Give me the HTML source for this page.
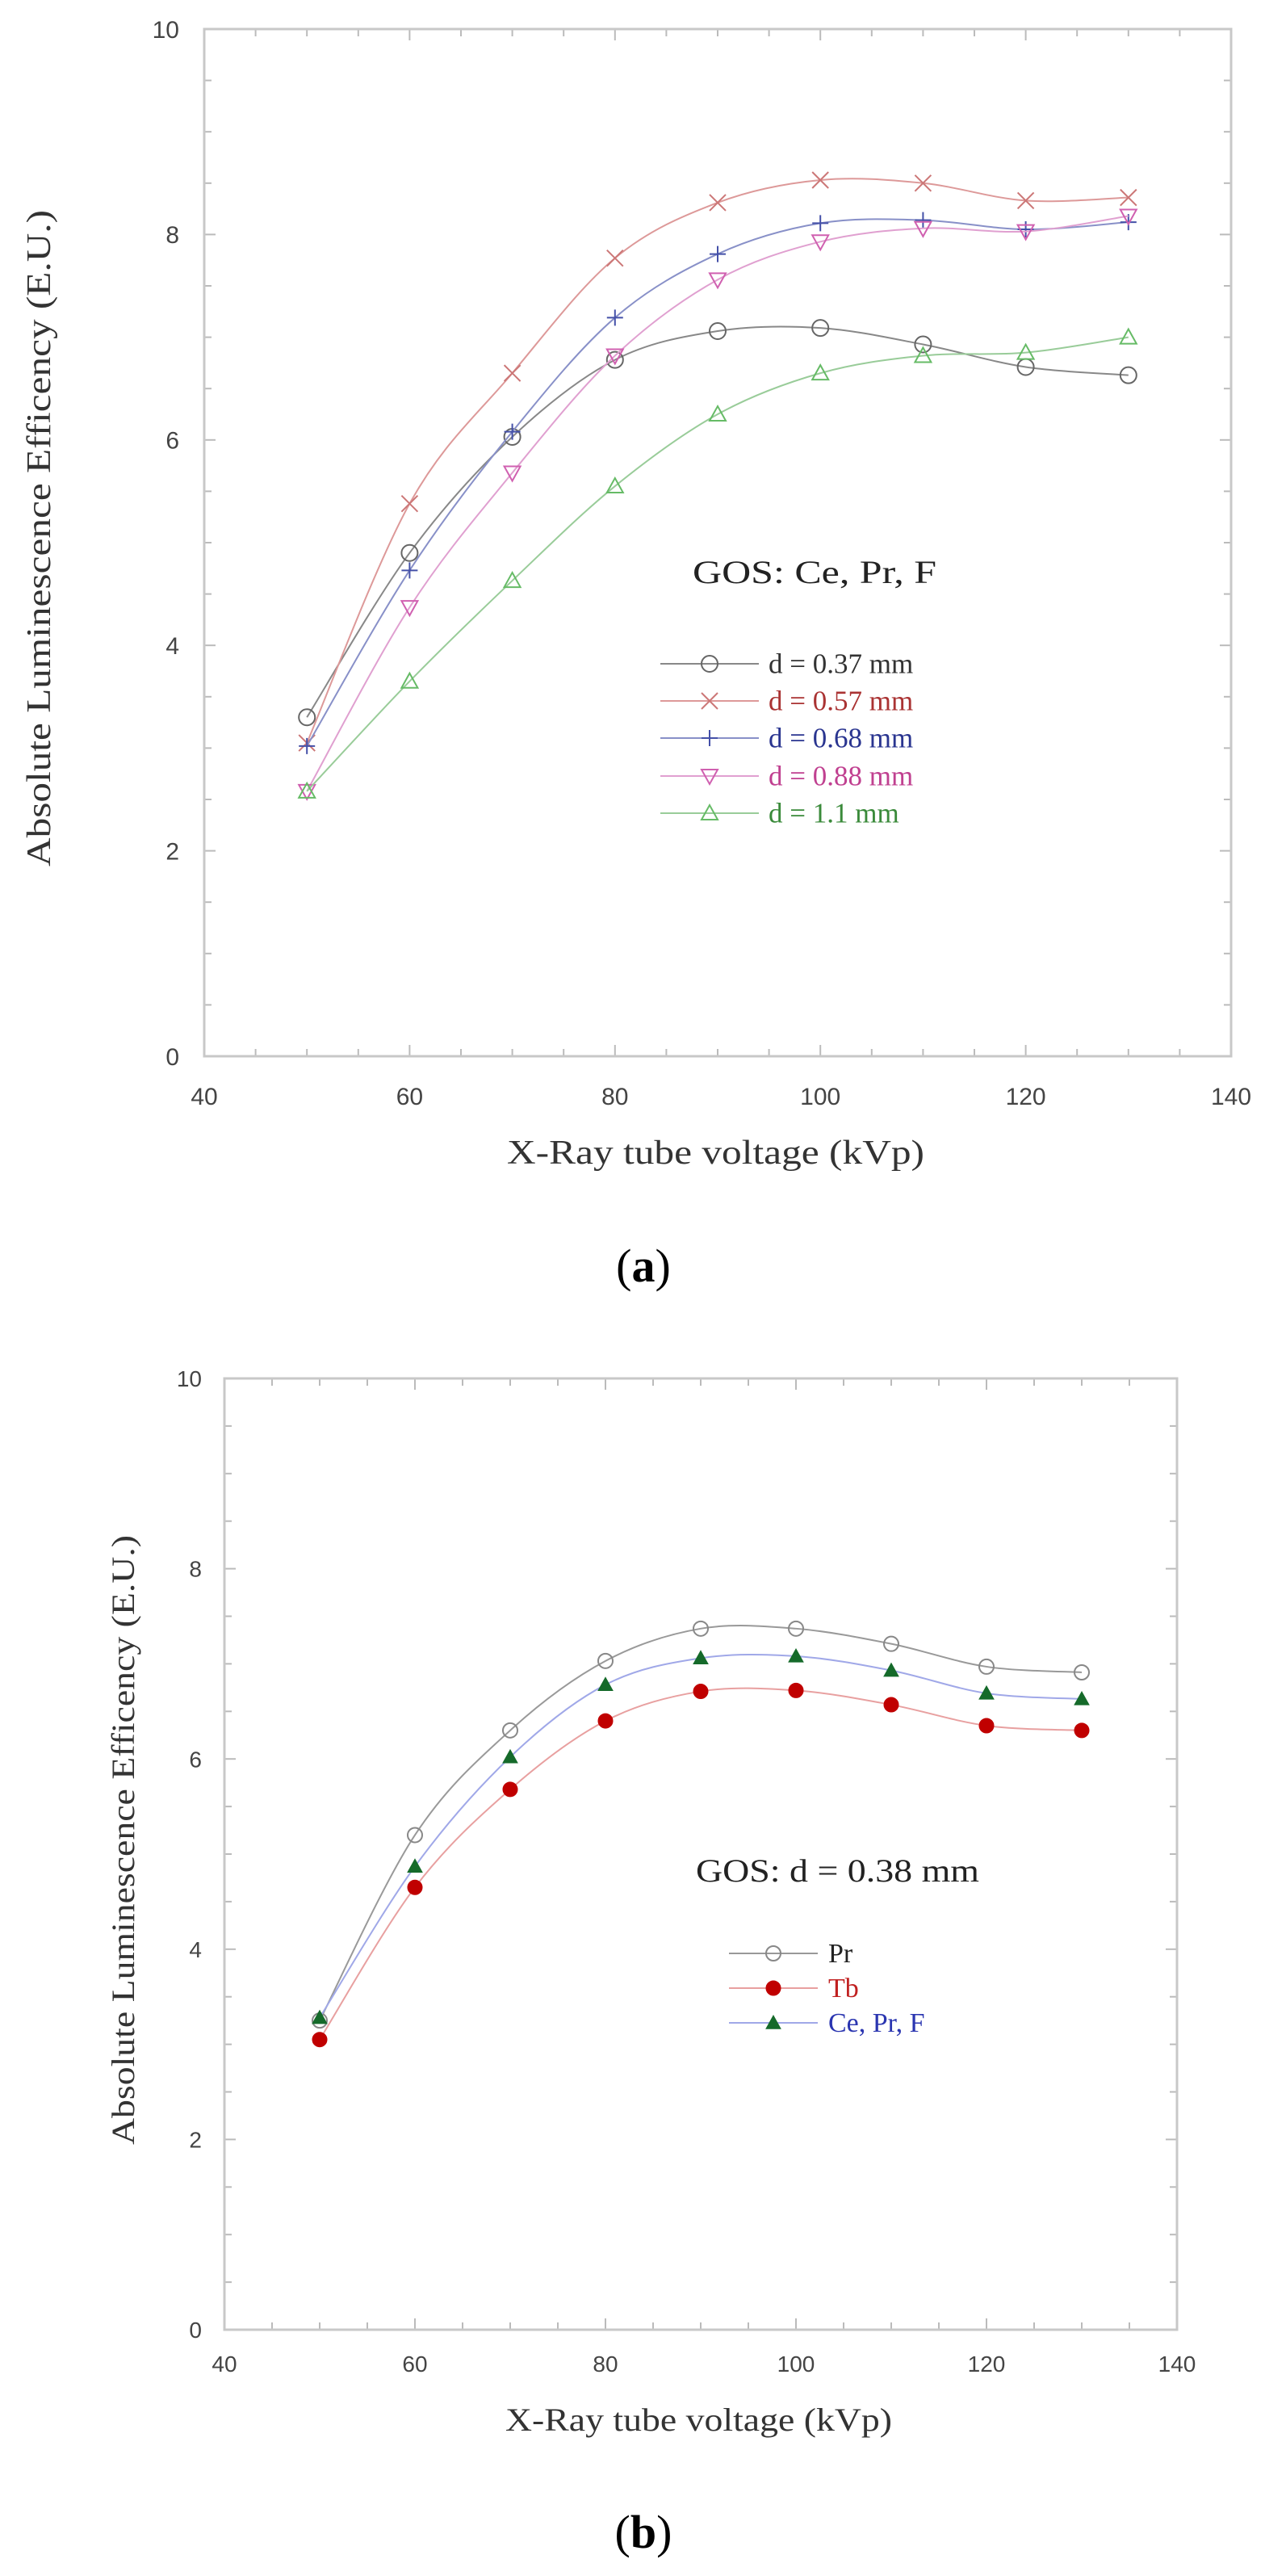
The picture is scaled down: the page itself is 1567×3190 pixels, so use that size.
<!DOCTYPE html>
<html><head><meta charset="utf-8"><style>
html,body{margin:0;padding:0;background:#fff;}
svg{display:block;}
</style></head><body>
<svg id="fig" width="1567" height="3190" viewBox="0 0 1567 3190" xmlns="http://www.w3.org/2000/svg">
<rect x="0" y="0" width="1567" height="3190" fill="#fff"/>
<g id="chartA"></g>
<g id="chartB"></g>
<text x="797" y="1587" text-anchor="middle" font-family="Liberation Serif, serif" font-size="58" fill="#000">(<tspan font-weight="bold">a</tspan>)</text>
<text x="797" y="3155" text-anchor="middle" font-family="Liberation Serif, serif" font-size="58" fill="#000">(<tspan font-weight="bold">b</tspan>)</text>
</svg>
<script>
const xCats = [50,60,70,80,90,100,110,120,130];
const xTicks = [40,60,80,100,120,140];
const yTicks = [0,2,4,6,8,10];
// Chart A series
const a037 = [3.3,4.9,6.03,6.78,7.06,7.09,6.93,6.71,6.63];
const a057 = [3.05,5.38,6.65,7.77,8.31,8.53,8.50,8.33,8.36];
const a068 = [3.02,4.73,6.08,7.19,7.81,8.11,8.14,8.05,8.12];
const a088 = [2.58,4.37,5.68,6.82,7.56,7.93,8.06,8.03,8.18];
const a110 = [2.58,3.65,4.63,5.55,6.25,6.65,6.82,6.85,7.0];
const aLabels = ["d = 0.37 mm","d = 0.57 mm","d = 0.68 mm","d = 0.88 mm","d = 1.1 mm"];
// Chart B series
const bPr = [3.25,5.2,6.3,7.03,7.37,7.37,7.21,6.97,6.91];
const bTb = [3.05,4.65,5.68,6.4,6.71,6.72,6.57,6.35,6.3];
const bCe = [3.28,4.87,6.02,6.78,7.06,7.08,6.93,6.69,6.63];
const bLabels = ["Pr","Tb","Ce, Pr, F"];

const NS="http://www.w3.org/2000/svg";
function mk(parent,tag,attrs){const e=document.createElementNS(NS,tag);for(const k in attrs)e.setAttribute(k,attrs[k]);parent.appendChild(e);return e;}

function smoothPath(pts){
  let d="M"+pts[0][0]+","+pts[0][1];
  for(let i=0;i<pts.length-1;i++){
    const p0=pts[Math.max(0,i-1)],p1=pts[i],p2=pts[i+1],p3=pts[Math.min(pts.length-1,i+2)];
    const c1=[p1[0]+(p2[0]-p0[0])/6,p1[1]+(p2[1]-p0[1])/6];
    const c2=[p2[0]-(p3[0]-p1[0])/6,p2[1]-(p3[1]-p1[1])/6];
    d+=" C"+c1[0]+","+c1[1]+" "+c2[0]+","+c2[1]+" "+p2[0]+","+p2[1];
  }
  return d;
}

function marker(g,type,x,y,color,r){
  let e;
  if(type==="circle"){e=mk(g,"circle",{cx:x,cy:y,r:r,fill:"#fff","fill-opacity":"0",stroke:color,"stroke-width":2});}
  else if(type==="fcircle"){e=mk(g,"circle",{cx:x,cy:y,r:r,fill:color,stroke:color,"stroke-width":1});}
  else if(type==="x"){e=mk(g,"path",{d:`M${x-r},${y-r}L${x+r},${y+r}M${x-r},${y+r}L${x+r},${y-r}`,stroke:color,"stroke-width":2,fill:"none"});}
  else if(type==="plus"){e=mk(g,"path",{d:`M${x-r},${y}L${x+r},${y}M${x},${y-r}L${x},${y+r}`,stroke:color,"stroke-width":2,fill:"none"});}
  else if(type==="tdown"){e=mk(g,"path",{d:`M${x-r},${y-r*0.8}L${x+r},${y-r*0.8}L${x},${y+r}Z`,stroke:color,"stroke-width":2,fill:"#fff","fill-opacity":"0"});}
  else if(type==="tup"){e=mk(g,"path",{d:`M${x-r},${y+r*0.8}L${x+r},${y+r*0.8}L${x},${y-r}Z`,stroke:color,"stroke-width":2,fill:"#fff","fill-opacity":"0"});}
  else if(type==="ftup"){e=mk(g,"path",{d:`M${x-r},${y+r*0.8}L${x+r},${y+r*0.8}L${x},${y-r}Z`,stroke:color,"stroke-width":1,fill:color});}
  return e;
}

function drawChart(g,cfg){
  const X=v=>cfg.x0+(v-40)/100*(cfg.x1-cfg.x0);
  const Y=v=>cfg.y1-(v/10)*(cfg.y1-cfg.y0);
  // ticks
  const tg=mk(g,"g",{});
  
  
  for(let v=45;v<140;v+=5){
    const L=(v%20===0)?14:9;
    mk(tg,"line",{x1:X(v),x2:X(v),y1:cfg.y1,y2:cfg.y1-L,stroke:"#bbb","stroke-width":2});
    mk(tg,"line",{x1:X(v),x2:X(v),y1:cfg.y0,y2:cfg.y0+L,stroke:"#bbb","stroke-width":2});
  }
  for(let v=0.5;v<10;v+=0.5){
    const L=(Math.abs(v%2)<1e-6)?14:9;
    mk(tg,"line",{x1:cfg.x0,x2:cfg.x0+L,y1:Y(v),y2:Y(v),stroke:"#bbb","stroke-width":2});
    mk(tg,"line",{x1:cfg.x1,x2:cfg.x1-L,y1:Y(v),y2:Y(v),stroke:"#bbb","stroke-width":2});
  }
  const fr=mk(g,"rect",{x:cfg.x0,y:cfg.y0,width:cfg.x1-cfg.x0,height:cfg.y1-cfg.y0,fill:"none",stroke:"#c8c8c8","stroke-width":3});
  
  
  xTicks.forEach(v=>{
    const t=mk(g,"text",{x:X(v),y:cfg.xlabY,"text-anchor":"middle","font-family":"Liberation Sans, sans-serif","font-size":cfg.tfs,fill:"#444"});
    t.textContent=v;
    
    
  });
  yTicks.forEach(v=>{
    const t=mk(g,"text",{x:cfg.ylabX,y:Y(v)+cfg.tfs*0.36,"text-anchor":"end","font-family":"Liberation Sans, sans-serif","font-size":cfg.tfs,fill:"#444"});
    t.textContent=v;
    
    
  });
  const xt=mk(g,"text",{x:cfg.xtX,y:cfg.xtY,"font-family":"Liberation Serif, serif","font-size":cfg.afs,fill:"#333",textLength:cfg.xtLen,lengthAdjust:"spacingAndGlyphs"});
  xt.textContent="X-Ray tube voltage (kVp)";
  
  
  const yt=mk(g,"text",{x:0,y:0,transform:`translate(${cfg.ytX},${cfg.ytY}) rotate(-90)`,"font-family":"Liberation Serif, serif","font-size":cfg.afs,fill:"#333",textLength:cfg.ytLen,lengthAdjust:"spacingAndGlyphs"});
  yt.textContent="Absolute Luminescence Efficency (E.U.)";
  
  
  const gt=mk(g,"text",{x:cfg.gtX,y:cfg.gtY,"font-family":"Liberation Serif, serif","font-size":cfg.gfs,fill:"#222",textLength:cfg.gtLen,lengthAdjust:"spacingAndGlyphs"});
  gt.textContent=cfg.gtText;
  
  
  cfg.series.forEach((s,si)=>{
    const sg=mk(g,"g",{});
    
    
    const pts=xCats.map((c,i)=>[X(c),Y(s.data[i])]);
    const p=mk(sg,"path",{d:smoothPath(pts),fill:"none",stroke:s.line,"stroke-width":2});
    
    
    pts.forEach(q=>{
      const m=marker(sg,s.m,q[0],q[1],s.mc,cfg.mr);
      
      
    });
    // legend
    const lg=mk(g,"g",{});
    
    
    const ly=cfg.legY[si];
    mk(lg,"line",{x1:cfg.legX0,x2:cfg.legX1,y1:ly,y2:ly,stroke:s.line,"stroke-width":2});
    marker(lg,s.m,(cfg.legX0+cfg.legX1)/2,ly,s.mc,cfg.mr);
    const lt=mk(lg,"text",{x:cfg.legTX,y:ly+cfg.lfs*0.33,"font-family":"Liberation Serif, serif","font-size":cfg.lfs,fill:s.tc});
    lt.textContent=s.label;
  });
}

drawChart(document.getElementById("chartA"),{
  x0:253,x1:1525,y0:36,y1:1308,xlabY:1368,ylabX:222,tfs:30,
  xtX:628,xtY:1441,xtLen:517,afs:42,ytX:62,ytY:1073,ytLen:813,
  gtX:858,gtY:722,gtLen:302,gfs:40,gtText:"GOS: Ce, Pr, F",
  mr:10,legX0:818,legX1:940,legTX:952,lfs:35,legY:[822,868,914,961,1007],
  series:[
    {key:"d037",data:a037,m:"circle",line:"#888",mc:"#666",tc:"#333",label:aLabels[0]},
    {key:"d057",data:a057,m:"x",line:"#d99",mc:"#c77",tc:"#a33",label:aLabels[1]},
    {key:"d068",data:a068,m:"plus",line:"#8890c8",mc:"#4450a8",tc:"#2a3590",label:aLabels[2]},
    {key:"d088",data:a088,m:"tdown",line:"#e0a0d0",mc:"#d060b0",tc:"#c04090",label:aLabels[3]},
    {key:"d110",data:a110,m:"tup",line:"#9c9",mc:"#6b6",tc:"#3a8a3a",label:aLabels[4]}
  ]
});
drawChart(document.getElementById("chartB"),{
  x0:278,x1:1458,y0:1707,y1:2885,xlabY:2937,ylabX:250,tfs:28,
  xtX:626,xtY:3010,xtLen:479,afs:40,ytX:166,ytY:2656,ytLen:755,
  gtX:862,gtY:2330,gtLen:351,gfs:40,gtText:"GOS: d = 0.38 mm",
  mr:9,legX0:903,legX1:1013,legTX:1026,lfs:34,legY:[2419,2462,2505],
  series:[
    {key:"pr",data:bPr,m:"circle",line:"#999",mc:"#888",tc:"#222",label:bLabels[0]},
    {key:"tb",data:bTb,m:"fcircle",line:"#e8a0a0",mc:"#c00000",tc:"#c02020",label:bLabels[1]},
    {key:"ce",data:bCe,m:"ftup",line:"#a0a8e8",mc:"#156a2a",tc:"#2a35b0",label:bLabels[2]}
  ]
});
</script>
</body></html>
